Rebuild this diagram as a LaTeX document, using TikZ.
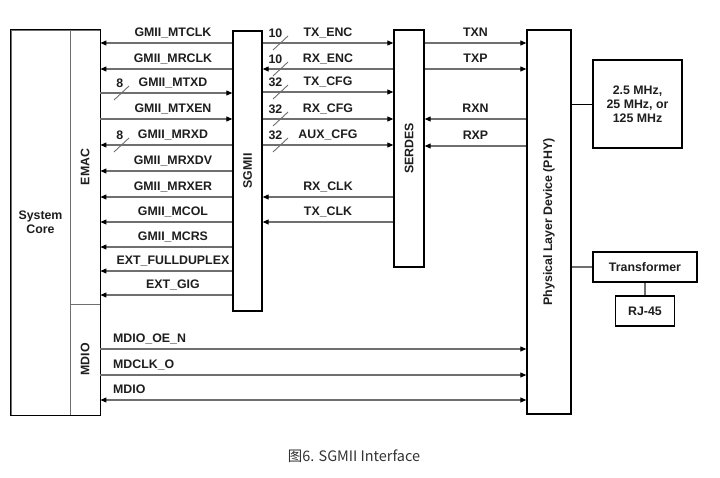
\documentclass[tikz,border=0pt]{standalone}
\usepackage{fontspec}
\setmainfont{Liberation Sans}
\newfontfamily\cjkfont{Noto Sans CJK SC}
\usetikzlibrary{arrows.meta}
\definecolor{wire}{HTML}{6F6F6F}
\definecolor{ink}{HTML}{1E1E1E}
\tikzset{
  >={Triangle[length=6bp,width=5bp,color=black]},
  blk/.style={draw=black, line width=1.4bp, inner sep=0pt},
  part/.style={draw=wire, line width=0.9bp, inner sep=0pt},
  wire/.style={draw=wire, line width=1.1bp},
  lbl/.style={font=\bfseries\fontsize{12.4}{14}\selectfont, text=ink, inner sep=0pt},
  sig/.style={lbl, anchor=base, yshift=6.5bp},
  bus/.style={draw=wire, line width=0.9bp},
}
\begin{document}
\begin{tikzpicture}[x=1bp, y=-1bp]
\path[fill=white] (0,0) rectangle (720,478);
% blocks
\node[part, minimum width=59bp, minimum height=385bp] (core) at (40.5,222.5) {};
\node[part, minimum width=30bp, minimum height=274bp] (emac) at (85,167) {};
\node[part, minimum width=30bp, minimum height=111bp] (mdio) at (85,359.5) {};
\draw[blk] (core.north west) rectangle (mdio.south east);
\node[blk, minimum width=29bp, minimum height=280bp] (sgmii) at (247.5,171) {};
\node[blk, minimum width=30bp, minimum height=237bp] (serdes) at (409,148.5) {};
\node[blk, minimum width=44bp, minimum height=384bp] (phy) at (549,222) {};
\node[blk, minimum width=89bp, minimum height=88bp] (clk) at (637.5,104) {};
\node[blk, minimum width=104bp, minimum height=30bp] (xfmr) at (645,267) {};
\node[blk, minimum width=59bp, minimum height=30bp] (rj) at (645,311) {};
% block texts
\node[lbl, align=center] (coretxt) at (core) {System\\Core};
\node[lbl, rotate=90] (emactxt) at (emac) {EMAC};
\node[lbl, rotate=90] (mdiotxt) at (mdio) {MDIO};
\node[lbl, rotate=90] (sgmiitxt) at (sgmii) {SGMII};
\node[lbl, rotate=90] (serdestxt) at (serdes) {SERDES};
\node[lbl, rotate=90] (phytxt) at (phy) {Physical Layer Device (PHY)};
\node[lbl, align=center] (clktxt) at (clk) {2.5 MHz,\\25 MHz, or\\125 MHz};
\node[lbl] (xfmrtxt) at (xfmr) {Transformer};
\node[lbl] (rjtxt) at (rj) {RJ-45};
% EMAC - SGMII
\draw[wire, <-] (emac.east |- 0,43) -- node[sig, pos=.55] (l1) {GMII\_MTCLK} (sgmii.west |- 0,43);
\draw[wire, <-] (emac.east |- 0,69) -- node[sig, pos=.55] (l2) {GMII\_MRCLK} (sgmii.west |- 0,69);
\draw[wire, ->] (emac.east |- 0,93) -- node[sig, pos=.55] (l3) {GMII\_MTXD} (sgmii.west |- 0,93);
\draw[wire, ->] (emac.east |- 0,119) -- node[sig, pos=.55] (l4) {GMII\_MTXEN} (sgmii.west |- 0,119);
\draw[wire, <-] (emac.east |- 0,145) -- node[sig, pos=.55] (l5) {GMII\_MRXD} (sgmii.west |- 0,145);
\draw[wire, <-] (emac.east |- 0,171) -- node[sig, pos=.55] (l6) {GMII\_MRXDV} (sgmii.west |- 0,171);
\draw[wire, <-] (emac.east |- 0,197) -- node[sig, pos=.55] (l7) {GMII\_MRXER} (sgmii.west |- 0,197);
\draw[wire, <-] (emac.east |- 0,222) -- node[sig, pos=.55] (l8) {GMII\_MCOL} (sgmii.west |- 0,222);
\draw[wire, <-] (emac.east |- 0,247) -- node[sig, pos=.55] (l9) {GMII\_MCRS} (sgmii.west |- 0,247);
\draw[wire, <-] (emac.east |- 0,271) -- node[sig, pos=.55] (l10) {EXT\_FULLDUPLEX} (sgmii.west |- 0,271);
\draw[wire, <-] (emac.east |- 0,295) -- node[sig, pos=.55] (l11) {EXT\_GIG} (sgmii.west |- 0,295);
% SGMII - SERDES
\draw[wire, ->] (sgmii.east |- 0,43) -- node[sig] (m1) {TX\_ENC} (serdes.west |- 0,43);
\draw[wire, <-] (sgmii.east |- 0,69) -- node[sig] (m2) {RX\_ENC} (serdes.west |- 0,69);
\draw[wire, ->] (sgmii.east |- 0,92) -- node[sig] (m3) {TX\_CFG} (serdes.west |- 0,92);
\draw[wire, ->] (sgmii.east |- 0,119) -- node[sig] (m4) {RX\_CFG} (serdes.west |- 0,119);
\draw[wire, ->] (sgmii.east |- 0,145) -- node[sig] (m5) {AUX\_CFG} (serdes.west |- 0,145);
\draw[wire, <-] (sgmii.east |- 0,197) -- node[sig] (m6) {RX\_CLK} (serdes.west |- 0,197);
\draw[wire, <-] (sgmii.east |- 0,222) -- node[sig] (m7) {TX\_CLK} (serdes.west |- 0,222);
% SERDES - PHY
\draw[wire, ->] (serdes.east |- 0,43) -- node[sig] (r1) {TXN} (phy.west |- 0,43);
\draw[wire, ->] (serdes.east |- 0,69) -- node[sig] (r2) {TXP} (phy.west |- 0,69);
\draw[wire, <-] (serdes.east |- 0,119) -- node[sig] (r3) {RXN} (phy.west |- 0,119);
\draw[wire, <-] (serdes.east |- 0,146) -- node[sig] (r4) {RXP} (phy.west |- 0,146);
% bus widths
\coordinate (b1) at (121,93);
\coordinate (b2) at (121,145);
\coordinate (b3) at (280,43);
\coordinate (b4) at (280,69);
\coordinate (b5) at (280,92);
\coordinate (b6) at (280,119);
\coordinate (b7) at (280,145);
\draw[bus] ([xshift=-7bp,yshift=-7bp]b1) -- ([xshift=8bp,yshift=7bp]b1);
\draw[bus] ([xshift=-7bp,yshift=-7bp]b2) -- ([xshift=8bp,yshift=7bp]b2);
\draw[bus] ([xshift=-7bp,yshift=-7bp]b3) -- ([xshift=8bp,yshift=7bp]b3);
\draw[bus] ([xshift=-7bp,yshift=-7bp]b4) -- ([xshift=8bp,yshift=7bp]b4);
\draw[bus] ([xshift=-7bp,yshift=-7bp]b5) -- ([xshift=8bp,yshift=7bp]b5);
\draw[bus] ([xshift=-7bp,yshift=-7bp]b6) -- ([xshift=8bp,yshift=7bp]b6);
\draw[bus] ([xshift=-7bp,yshift=-7bp]b7) -- ([xshift=8bp,yshift=7bp]b7);
\node[lbl, anchor=south east] (n1) at ([xshift=2.5bp,yshift=5bp]b1) {8};
\node[lbl, anchor=south east] (n2) at ([xshift=2.5bp,yshift=5bp]b2) {8};
\node[lbl, anchor=south east] (n3) at ([xshift=2.5bp,yshift=5bp]b3) {10};
\node[lbl, anchor=south east] (n4) at ([xshift=2.5bp,yshift=5bp]b4) {10};
\node[lbl, anchor=south east] (n5) at ([xshift=2.5bp,yshift=5bp]b5) {32};
\node[lbl, anchor=south east] (n6) at ([xshift=2.5bp,yshift=5bp]b6) {32};
\node[lbl, anchor=south east] (n7) at ([xshift=2.5bp,yshift=5bp]b7) {32};
% MDIO - PHY
\draw[wire, ->] (mdio.east |- 0,349) -- (phy.west |- 0,349);
\draw[wire, ->] (mdio.east |- 0,375) -- (phy.west |- 0,375);
\draw[wire, <->] (mdio.east |- 0,400) -- (phy.west |- 0,400);
\node[lbl, anchor=base west] (d1) at (113,342.5) {MDIO\_OE\_N};
\node[lbl, anchor=base west] (d2) at (113,368.5) {MDCLK\_O};
\node[lbl, anchor=base west] (d3) at (113,393.5) {MDIO};
% PHY side
\draw[draw=black, line width=0.9bp] (phy.east |- clk.west) -- (clk.west);
\draw[wire] (phy.east |- xfmr.west) -- (xfmr.west);
\draw[wire] (xfmr.south) -- (rj.north);
% caption
\node[font=\cjkfont\fontsize{14.5}{16}\selectfont, text=black!80, inner sep=0pt] (cap) at (354,456) {图6. SGMII Interface};
\end{tikzpicture}
\end{document}
